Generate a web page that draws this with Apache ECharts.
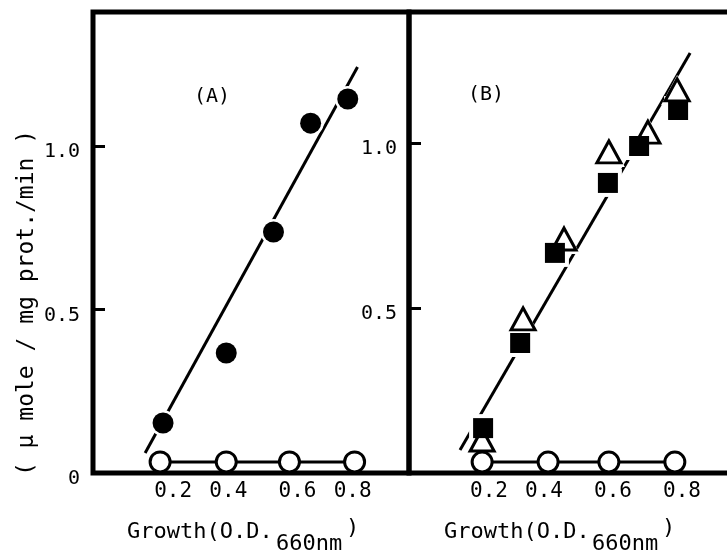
<!DOCTYPE html>
<html><head><meta charset="utf-8">
<script src="https://cdn.jsdelivr.net/npm/echarts@6/dist/echarts.min.js"></script>
<style>html,body{margin:0;padding:0;background:#fff}#c{width:727px;height:553px}</style>
</head><body><div id="c"></div>
<script>
// ---- data ----
const xTickLabels = ['0.2', '0.4', '0.6', '0.8'];
const yTickLabelsA = ['0', '0.5', '1.0'];
const yTickLabelsB = ['0.5', '1.0'];

// Panel (A)
const aFilledCircles = [[0.215, 0.153], [0.409, 0.367], [0.554, 0.737], [0.668, 1.070], [0.782, 1.144]];
const aOpenCircles = [[0.206, 0.034], [0.409, 0.034], [0.603, 0.034], [0.803, 0.034]];
const aFitLine = [[0.16, 0.061], [0.812, 1.242]];

// Panel (B)
const bSquares = [[0.228, 0.136], [0.342, 0.394], [0.449, 0.667], [0.612, 0.879], [0.708, 0.991], [0.828, 1.100]];
const bTriangles = [[0.225, 0.100], [0.351, 0.467], [0.477, 0.709], [0.615, 0.973], [0.735, 1.033], [0.825, 1.161]];
const bOpenCircles = [[0.225, 0.033], [0.428, 0.033], [0.615, 0.033], [0.818, 0.033]];
const bFitLine = [[0.157, 0.070], [0.865, 1.273]];

// ---- styling ----
const MONO = '"DejaVu Sans Mono", monospace';
const BLACK = '#000';
const WEIGHT = 'normal';

function xFormatter(v) {
  const s = v.toFixed(1);
  const i = xTickLabels.indexOf(s);
  if (i < 0 || Math.abs(v - parseFloat(s)) > 1e-6) return '';
  return '{s' + i + '|' + s + '}';
}
function yFormatter(labels) {
  return function (v) {
    for (const l of labels) if (Math.abs(parseFloat(l) - v) < 1e-6) return l;
    return '';
  };
}
function richShifts(pads) {
  const r = {};
  pads.forEach((p, i) => {
    r['s' + i] = { fontFamily: MONO, fontSize: 21, fontWeight: WEIGHT, color: BLACK, padding: p };
  });
  return r;
}

const chart = echarts.init(document.getElementById('c'), null, { renderer: 'canvas' });

const gridBase = { show: true, borderColor: BLACK, borderWidth: 5, backgroundColor: 'transparent', containLabel: false, outerBoundsMode: 'none' };

function xAxis(gridIndex, max, pads) {
  return {
    type: 'value', gridIndex, min: 0, max, interval: 0.2,
    axisLine: { show: false }, axisTick: { show: false }, splitLine: { show: false },
    axisLabel: { margin: 8, formatter: xFormatter, rich: richShifts(pads), fontFamily: MONO, fontSize: 21, fontWeight: WEIGHT, color: BLACK, showMaxLabel: false }
  };
}
function yAxis(gridIndex, max, labels, margin) {
  return {
    type: 'value', gridIndex, min: 0, max, interval: 0.5,
    axisLine: { show: false }, splitLine: { show: false },
    axisTick: { show: true, inside: true, length: 12, lineStyle: { color: BLACK, width: 3 } },
    axisLabel: { margin, formatter: yFormatter(labels), fontFamily: MONO, fontSize: 20, fontWeight: WEIGHT, color: BLACK, verticalAlign: 'top', padding: [-4, 0, 0, 0] }
  };
}

function fitLine(idx, data) {
  return { type: 'line', xAxisIndex: idx, yAxisIndex: idx, data, symbol: 'none', z: 2,
    lineStyle: { color: BLACK, width: 3 }, silent: true };
}
function halo(idx, data, symbol, size) {
  return { type: 'scatter', xAxisIndex: idx, yAxisIndex: idx, data, symbol, symbolSize: size, z: 3,
    itemStyle: { color: '#fff', opacity: 1 }, silent: true };
}
function filled(idx, data, symbol, size, z) {
  return { type: 'scatter', xAxisIndex: idx, yAxisIndex: idx, data, symbol, symbolSize: size, z: z || 5,
    itemStyle: { color: BLACK, opacity: 1 } };
}
function openLine(idx, data) {
  return { type: 'line', xAxisIndex: idx, yAxisIndex: idx, data, symbol: 'circle', symbolSize: 20, showSymbol: true, z: 4,
    lineStyle: { color: BLACK, width: 3 },
    itemStyle: { color: '#fff', borderColor: BLACK, borderWidth: 3 } };
}
function openTri(idx, data) {
  return { type: 'scatter', xAxisIndex: idx, yAxisIndex: idx, data, symbol: 'triangle', symbolSize: [24, 22], z: 4,
    itemStyle: { color: '#fff', borderColor: BLACK, borderWidth: 3, opacity: 1 } };
}

function txt(x, y, text, size, align, extra) {
  return Object.assign({
    type: 'text', x, y, silent: true,
    style: { text, font: WEIGHT + ' ' + size + 'px ' + MONO, fill: BLACK, align: align || 'left', verticalAlign: 'middle',
      textAlign: align || 'left', textVerticalAlign: 'middle' }
  }, extra || {});
}

const option = {
  animation: false,
  backgroundColor: '#fff',
  grid: [
    Object.assign({ left: 93, top: 12, width: 316, height: 461 }, gridBase),
    Object.assign({ left: 409, top: 12, width: 325, height: 461 }, gridBase)
  ],
  xAxis: [
    xAxis(0, 0.97, [[0, 0, 0, 30], [0, 0, 0, 10], [0, 0, 0, 18], [0, 2, 0, 0]]),
    xAxis(1, 1.0, [[0, 0, 0, 30], [0, 0, 0, 10], [0, 0, 0, 18], [0, 0, 0, 26]])
  ],
  yAxis: [
    yAxis(0, 1.41, yTickLabelsA, 13),
    yAxis(1, 1.397, yTickLabelsB, 12)
  ],
  series: [
    // Panel A
    fitLine(0, aFitLine),
    halo(0, aFilledCircles, 'circle', 26),
    filled(0, aFilledCircles, 'circle', 21),
    openLine(0, aOpenCircles),
    // Panel B
    fitLine(1, bFitLine),
    halo(1, bTriangles, 'triangle', [32, 30]),
    halo(1, bSquares, 'rect', 28),
    openTri(1, bTriangles),
    filled(1, bSquares, 'rect', 20, 5),
    openLine(1, bOpenCircles)
  ],
  graphic: [
    txt(212, 97, '(A)', 20, 'center'),
    txt(486, 95, '(B)', 20, 'center'),
    txt(27, 303, '( \u03bc mole / mg prot./min )', 23, 'center', { rotation: Math.PI / 2 }),
    txt(127, 532, 'Growth(O.D.', 22, 'left'),
    txt(276, 544, '660nm', 22, 'left'),
    txt(346, 528, ')', 22, 'left'),
    txt(444, 532, 'Growth(O.D.', 22, 'left'),
    txt(592, 544, '660nm', 22, 'left'),
    txt(662, 528, ')', 22, 'left')
  ]
};
chart.setOption(option);
</script>
</body></html>
